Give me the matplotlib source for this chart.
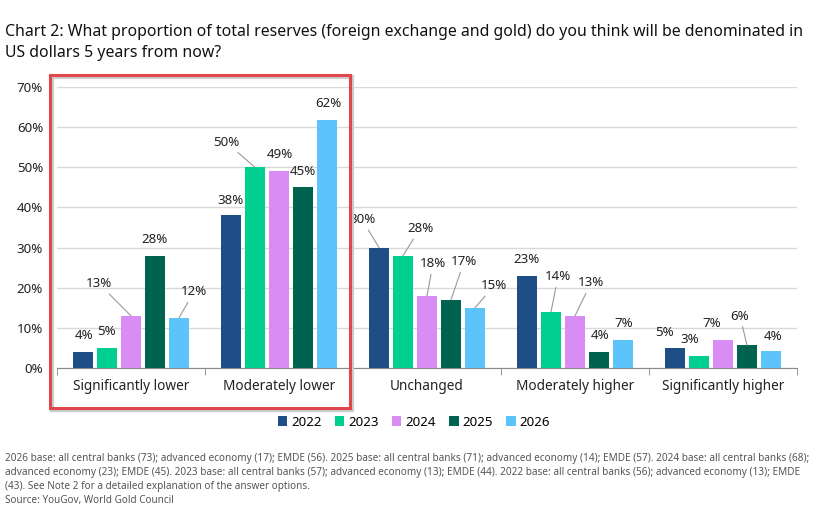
import matplotlib.pyplot as plt
import matplotlib.patches as mpatches
import numpy as np

plt.rcParams['font.family'] = ['Noto Sans', 'DejaVu Sans']

categories = ["Significantly lower", "Moderately lower", "Unchanged",
              "Moderately higher", "Significantly higher"]
years = ["2022", "2023", "2024", "2025", "2026"]
v2022 = [4, 38, 30, 23, 5]
v2023 = [5, 50, 28, 14, 3]
v2024 = [13, 49, 18, 13, 7]
v2025 = [28, 45, 17, 4, 5.7]
v2026 = [12.5, 61.7, 15, 7, 4.2]
labels = [
    ["4%", "38%", "30%", "23%", "5%"],
    ["5%", "50%", "28%", "14%", "3%"],
    ["13%", "49%", "18%", "13%", "7%"],
    ["28%", "45%", "17%", "4%", "6%"],
    ["12%", "62%", "15%", "7%", "4%"],
]
colors = ["#1f4e86", "#00cf8f", "#d98cf3", "#00634f", "#5cc4fb"]

# label offsets in pixels (dx, dy) from bar top, and leader flag
offsets = [
    [(1, 16, 0), (-1, 15, 0), (-17, 28, 1), (0, 16, 0), (-10, 15, 0)],
    [(0, 16, 0), (-29, 25, 1), (17, 27, 1), (7, 35, 1), (-9, 16, 0)],
    [(-32, 32, 1), (1, 17, 0), (6, 32, 1), (16, 33, 1), (-11, 16, 0)],
    [(0, 16, 0), (0, 16, 0), (13, 38, 1), (1, 16, 0), (-7, 29, 1)],
    [(15, 26, 1), (1, 17, 0), (19, 22, 1), (1, 16, 0), (2, 15, 0)],
]

W, H = 817, 508
fig = plt.figure(figsize=(W / 100, H / 100), dpi=100)
ax = fig.add_axes([57 / W, 1 - 368 / H, (797 - 57) / W, (368 - 87) / H])

series = [v2022, v2023, v2024, v2025, v2026]
x = np.arange(len(categories))
step = 24 / 148
width = 20 / 148
for j, vals in enumerate(series):
    xs = x + (j - 2) * step
    ax.bar(xs, vals, width, color=colors[j], label=years[j], zorder=3)
    for i, v in enumerate(vals):
        dx, dy, lead = offsets[j][i]
        props = dict(arrowstyle='-', color='#999999', lw=0.8,
                     shrinkA=1, shrinkB=0) if lead else None
        ax.annotate(labels[j][i], (xs[i], v), xytext=(dx, dy),
                    textcoords='offset pixels', ha='center', va='center',
                    fontsize=9.6, color='#222222', arrowprops=props,
                    annotation_clip=False)

ax.set_xlim(-0.5, 4.5)
ax.set_ylim(0, 70)
ax.set_yticks(range(0, 71, 10))
ax.set_yticklabels([f"{t}%" for t in range(0, 71, 10)], fontsize=9.6, color='#222222')
ax.yaxis.grid(True, color='#d9d9d9', lw=1, zorder=0)
ax.tick_params(axis='y', length=0, pad=10)
ax.set_xticks(x)
ax.set_xticklabels(categories, fontsize=9.8, color='#222222')
ax.tick_params(axis='x', length=0, pad=8)
ax.set_xticks(np.arange(-0.5, 4.6, 1), minor=True)
ax.tick_params(axis='x', which='minor', length=5, color='#888888', direction='out')
for s in ['top', 'right', 'left']:
    ax.spines[s].set_visible(False)
ax.spines['bottom'].set_color('#888888')

fig.legend(loc='center', bbox_to_anchor=(414 / W, 1 - 422 / H), ncol=5,
           frameon=False, fontsize=9.6, handlelength=0.7, handleheight=0.7,
           handletextpad=0.3, columnspacing=1.0)

fig.text(5 / W, 1 - 32 / H,
         "Chart 2: What proportion of total reserves (foreign exchange and gold) do you think will be denominated in",
         fontsize=11.4, color='#111111', va='center')
fig.text(5 / W, 1 - 53 / H, "US dollars 5 years from now?",
         fontsize=11.4, color='#111111', va='center')

notes = [
    "2026 base: all central banks (73); advanced economy (17); EMDE (56). 2025 base: all central banks (71); advanced economy (14); EMDE (57). 2024 base: all central banks (68);",
    "advanced economy (23); EMDE (45). 2023 base: all central banks (57); advanced economy (13); EMDE (44). 2022 base: all central banks (56); advanced economy (13); EMDE",
    "(43). See Note 2 for a detailed explanation of the answer options.",
    "Source: YouGov, World Gold Council",
]
for k, line in enumerate(notes):
    fig.text(5 / W, 1 - (459 + 14 * k) / H, line, fontsize=7.2,
             color='#555555', va='center')

# highlight box
shadow = mpatches.Rectangle((52 / W, 1 - 410 / H), 300 / W, 333 / H,
                            transform=fig.transFigure, fill=False,
                            ec='#cccccc', lw=3, zorder=9)
box = mpatches.Rectangle((50 / W, 1 - 408 / H), 300 / W, 333 / H,
                         transform=fig.transFigure, fill=False,
                         ec='#e0474c', lw=2.2, zorder=10)
fig.patches.extend([shadow, box])

fig.savefig("out.png", dpi=100)
